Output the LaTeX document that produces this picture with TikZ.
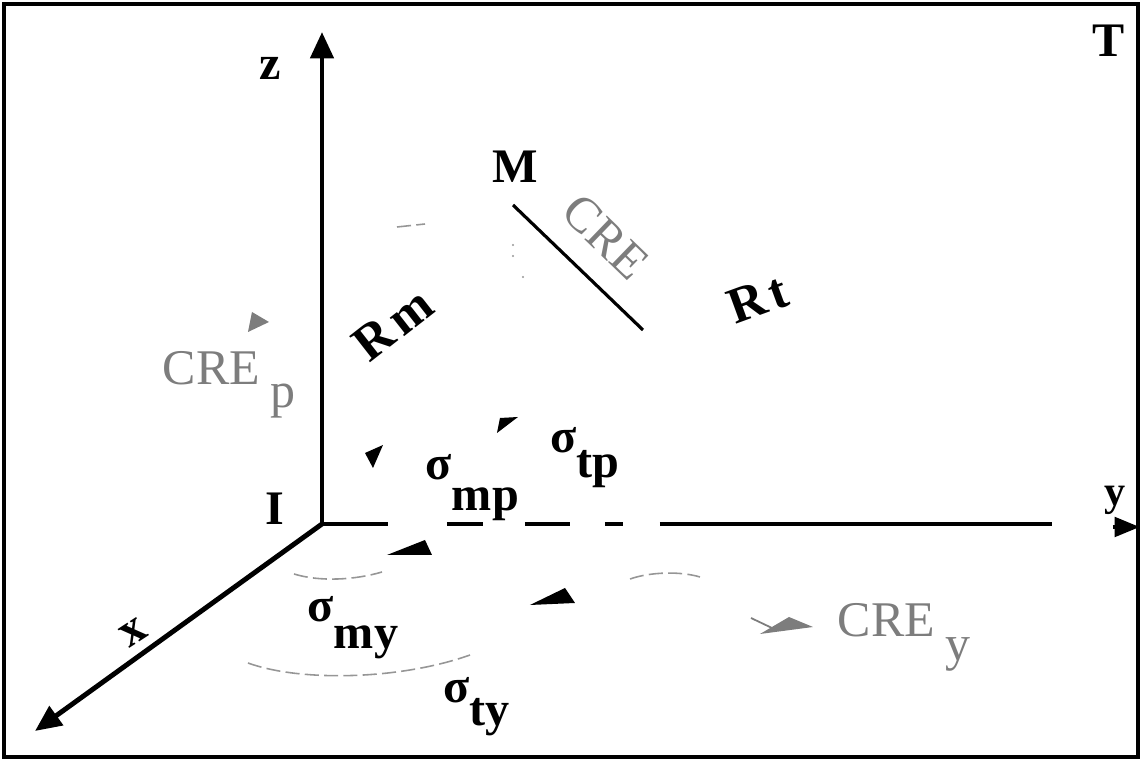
\documentclass[tikz,border=0pt]{standalone}
\usepackage{fontspec}
\setmainfont{Liberation Serif}
\usetikzlibrary{arrows.meta}
\definecolor{cregray}{RGB}{125,125,125}
\definecolor{arcgray}{RGB}{150,150,150}
\tikzset{
  frame/.style={draw=black, line width=0.9pt},
  axis/.style={line width=1.4pt, color=black},
  axisarrow/.style={-{Triangle[length=7.5pt,width=6.5pt]}, axis},
  yarrow/.style={-{Triangle[length=7.2pt,width=5.4pt]}, axis},
  creline/.style={line width=0.9pt, color=black},
  lbl/.style={font=\fontsize{13.7}{16}\selectfont\bfseries, inner sep=0pt},
  rlbl/.style={font=\fontsize{14.5}{17}\selectfont\bfseries, inner sep=0pt},
  crelbl/.style={font=\fontsize{14.2}{17}\selectfont, text=cregray, inner sep=0pt},
  sigmalbl/.style={font=\fontsize{13.7}{16}\selectfont\bfseries, inner sep=0pt, anchor=base west},
  headtri/.style={fill=black},
  hatchtri/.style={fill=cregray},
  faintarc/.style={draw=arcgray, line width=0.45pt, dash pattern=on 4pt off 1.5pt}
}
\begin{document}
\begin{tikzpicture}[x=0.01cm, y=-0.01cm]
  \useasboundingbox (0,0) rectangle (1141,761);
  % --- FRAME ---
  \draw[frame] (4,4) rectangle (1138,757);

  % --- AXES ---
  \coordinate (I) at (322,524);
  \coordinate (ztip) at (322,32);
  \coordinate (xtip) at (35,731);
  \draw[axisarrow] (I) -- (ztip);
  \draw[axisarrow] (I) -- (xtip);
  \foreach \a/\b in {322/388, 447/483, 525/570, 605/623, 660/1052}
    \draw[axis] (\a,524) -- (\b,524);
  \coordinate (ystub) at (1113,527);
  \coordinate (ytip) at (1140,527);
  \draw[yarrow] (ystub) -- (ytip);

  \node[lbl] (zlab) at (270,68) {z};
  \node[lbl, rotate=33] (xlab) at (134,633) {x};
  \node[lbl, font=\fontsize{12}{14}\selectfont\bfseries] (ylab) at (1115,500) {y};
  \node[lbl] (Ilab) at (275,509) {I};
  \node[lbl] (Tlab) at (1109,41) {T};

  % --- POINT M AND CRE SEGMENT ---
  \node[lbl] (M) at (515,167) {M};
  \coordinate (cre1) at (513,205);
  \coordinate (cre2) at (643,330);
  \draw[creline] (cre1) -- (cre2);
  \node[crelbl, rotate=-44] (cre) at (606,237) {CRE};
  \node[rlbl, rotate=38] (Rm) at (393,324) {R\hspace{1.5pt}m};
  \node[rlbl, rotate=20] (Rt) at (758,299) {R\hspace{1.5pt}t};

  % --- CRE LABELS ---
  \node[crelbl, anchor=base west] (crep) at (162,385) {CRE\hspace{3pt}\raisebox{-6.5pt}{p}};
  \fill[hatchtri] (252,312) -- (269,322) -- (248,332) -- cycle;
  \node[crelbl, anchor=base west] (crey) at (837,637) {CRE\hspace{3pt}\raisebox{-6.8pt}{y}};
  \fill[hatchtri] (760,634) -- (813,627) -- (789,617) -- cycle;
  \draw[cregray, line width=0.5pt] (751,618) -- (772,628);

  % --- ANGLE LABELS ---
  \node[sigmalbl] (smp) at (425,480) {σ\raisebox{-8.8pt}{mp}};
  \node[sigmalbl] (stp) at (550,453) {σ\raisebox{-7.1pt}{tp}};
  \node[sigmalbl] (smy) at (307,622) {σ\raisebox{-7.4pt}{my}};
  \node[sigmalbl] (sty) at (443,703) {σ\raisebox{-6.3pt}{ty}};

  % --- ARC HEADS ---
  \fill[headtri] (383,445) -- (365,453) -- (373,468) -- cycle;
  \fill[headtri] (500,418) -- (518,417) -- (497,433) -- cycle;
  \fill[headtri] (387,555) -- (432,555) -- (425,540) -- cycle;
  \fill[headtri] (530,605) -- (575,603) -- (565,588) -- cycle;

  % --- FAINT ARCS ---
  \draw[faintarc] (397,227) -- (425,224);
  \foreach \p in {(513,245), (513,256), (523,277)}
    \fill[arcgray] \p circle (1.2);
  \draw[faintarc] (294,574) .. controls (320,582) and (355,580) .. (382,572);
  \draw[faintarc] (248,663) .. controls (300,682) and (400,680) .. (470,655);
  \draw[faintarc] (630,579) .. controls (650,572) and (680,571) .. (700,577);
\end{tikzpicture}
\end{document}
